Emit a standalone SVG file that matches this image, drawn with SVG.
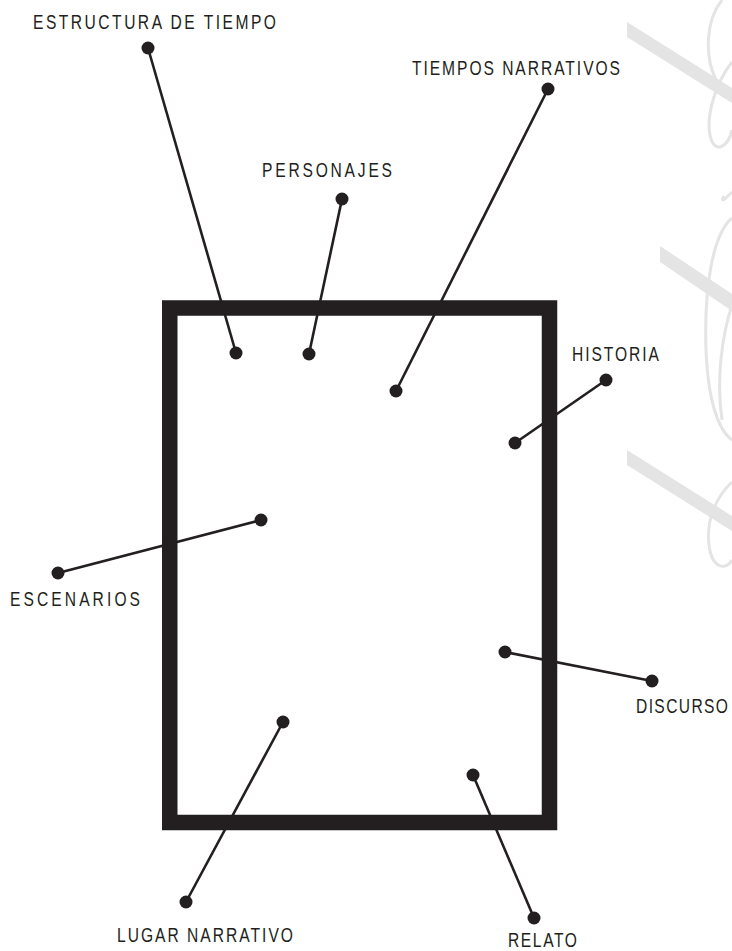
<svg xmlns="http://www.w3.org/2000/svg" width="732" height="951" viewBox="0 0 732 951">
<style>
.lbl{font-family:"Liberation Sans",Arial,sans-serif;font-size:19.5px;fill:#231f20}
.ln{stroke:#231f20;stroke-width:2.6;fill:none}
.dot{fill:#231f20}
.wm{fill:#e4e4e4}
.wms{stroke:#e4e4e4;stroke-width:3;fill:none}
</style>
<rect width="732" height="951" fill="#ffffff"/>
<g id="watermark">
<polygon class="wm" points="627,22 732,88 732,103 627,37"/>
<polygon class="wm" points="660,246 732,294 732,311 660,262"/>
<polygon class="wm" points="627,450 732,516 732,531 627,465"/>
<path class="wms" d="M722,0 C706,20 704,55 716,80"/>
<path class="wms" d="M732,62 C716,82 706,115 710,135 C714,155 728,148 732,130"/>
<path class="wms" d="M732,192 C726,198 720,204 724,196"/>
<path class="wms" d="M732,218 C712,235 704,290 706,350 C708,400 718,430 732,440"/>
<path class="wms" d="M732,305 C722,335 716,380 722,420"/>
<path class="wms" d="M732,482 C716,497 706,520 709,545 C712,570 727,570 732,560"/>
</g>
<g id="frame">
<rect x="169.75" y="308" width="379.75" height="514.5" fill="none" stroke="#231f20" stroke-width="15.5"/>
</g>
<g id="connectors">
<line class="ln" x1="148" y1="48" x2="236" y2="353"/>
<line class="ln" x1="342" y1="199" x2="309" y2="354"/>
<line class="ln" x1="548" y1="89" x2="396" y2="391"/>
<line class="ln" x1="606" y1="380" x2="515" y2="443"/>
<line class="ln" x1="58" y1="573" x2="261" y2="520"/>
<line class="ln" x1="652" y1="681" x2="505" y2="652"/>
<line class="ln" x1="186" y1="902" x2="283" y2="722"/>
<line class="ln" x1="534" y1="918" x2="473" y2="775"/>
</g>
<g id="estructura">
<circle class="dot" cx="148" cy="48" r="6.5"/>
<circle class="dot" cx="236" cy="353" r="6.5"/>
<text class="lbl" transform="scale(0.8,1)" x="41.25" y="29" textLength="303.75" lengthAdjust="spacing">ESTRUCTURA DE TIEMPO</text>
</g>
<g id="personajes">
<circle class="dot" cx="342" cy="199" r="6.5"/>
<circle class="dot" cx="309" cy="354" r="6.5"/>
<text class="lbl" transform="scale(0.8,1)" x="327.5" y="177" textLength="162.5" lengthAdjust="spacing">PERSONAJES</text>
</g>
<g id="tiempos">
<circle class="dot" cx="548" cy="89" r="6.5"/>
<circle class="dot" cx="396" cy="391" r="6.5"/>
<text class="lbl" transform="scale(0.8,1)" x="515" y="75" textLength="260" lengthAdjust="spacing">TIEMPOS NARRATIVOS</text>
</g>
<g id="historia">
<circle class="dot" cx="606" cy="380" r="6.5"/>
<circle class="dot" cx="515" cy="443" r="6.5"/>
<text class="lbl" transform="scale(0.8,1)" x="715" y="361" textLength="108.75" lengthAdjust="spacing">HISTORIA</text>
</g>
<g id="escenarios">
<circle class="dot" cx="58" cy="573" r="6.5"/>
<circle class="dot" cx="261" cy="520" r="6.5"/>
<text class="lbl" transform="scale(0.8,1)" x="12.5" y="606" textLength="162.5" lengthAdjust="spacing">ESCENARIOS</text>
</g>
<g id="discurso">
<circle class="dot" cx="652" cy="681" r="6.5"/>
<circle class="dot" cx="505" cy="652" r="6.5"/>
<text class="lbl" transform="scale(0.8,1)" x="795" y="713" textLength="115" lengthAdjust="spacing">DISCURSO</text>
</g>
<g id="lugar">
<circle class="dot" cx="186" cy="902" r="6.5"/>
<circle class="dot" cx="283" cy="722" r="6.5"/>
<text class="lbl" transform="scale(0.8,1)" x="146.25" y="942" textLength="220" lengthAdjust="spacing">LUGAR NARRATIVO</text>
</g>
<g id="relato">
<circle class="dot" cx="534" cy="918" r="6.5"/>
<circle class="dot" cx="473" cy="775" r="6.5"/>
<text class="lbl" transform="scale(0.8,1)" x="635" y="947" textLength="86.25" lengthAdjust="spacing">RELATO</text>
</g>
</svg>
